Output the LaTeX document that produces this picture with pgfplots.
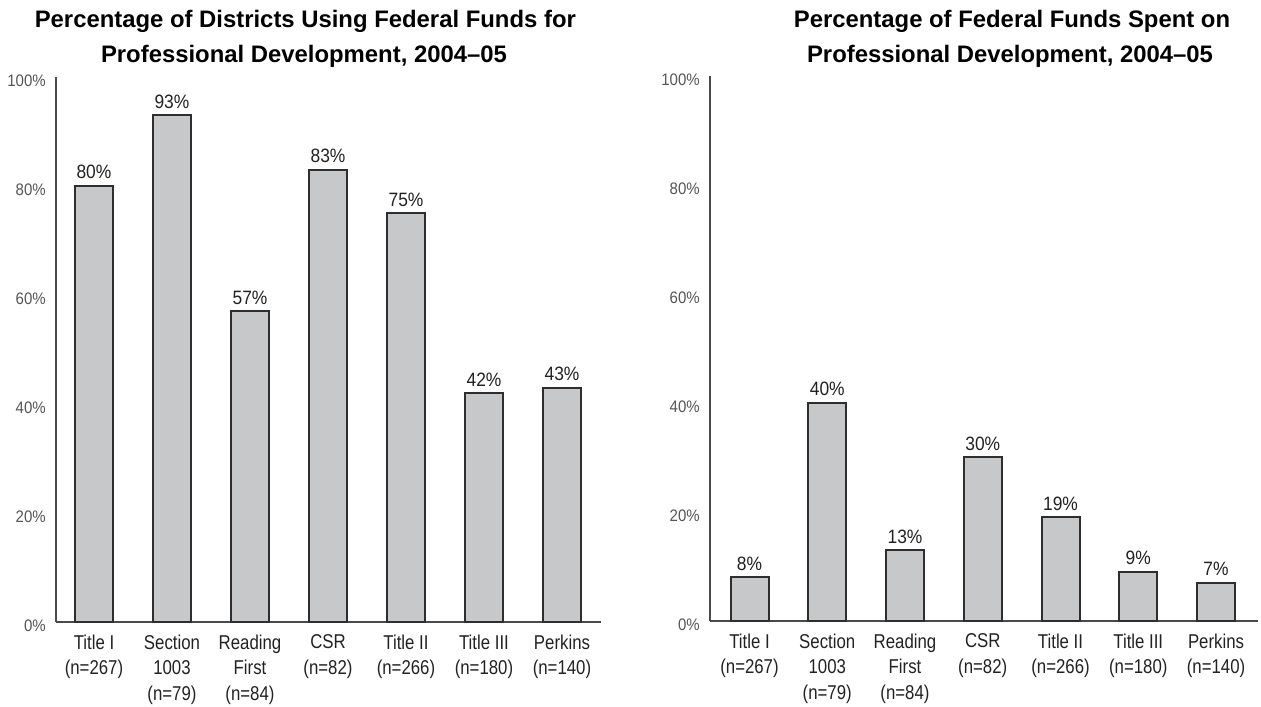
\documentclass[border=0pt]{standalone}
\usepackage{pgfplots}
\pgfplotsset{compat=1.18}
\usepackage{fontspec}
\setmainfont{Liberation Sans}
\newfontfamily\narrowf[FakeStretch=0.84]{Liberation Sans}
\newfontfamily\narrowt[FakeStretch=0.9]{Liberation Sans}
\definecolor{barfill}{HTML}{C7C8CA}
\definecolor{baredge}{HTML}{2E2E2E}
\definecolor{axisc}{HTML}{4A4A4A}
\definecolor{tickc}{HTML}{555555}
\definecolor{labc}{HTML}{222222}
\pgfplotsset{
  panel/.style={
    scale only axis,
    height=408.75pt,
    ymin=0, ymax=100,
    axis x line=bottom, axis y line=left,
    axis line style={-, draw=axisc, line width=1.5pt},
    major tick length=0pt,
    ytick={0,20,40,60,80,100},
    yticklabels={0\%,20\%,40\%,60\%,80\%,100\%},
    yticklabel style={anchor=east, inner sep=0pt, xshift=-7.5pt, yshift=-3pt,
      font={\narrowt\fontsize{12.5pt}{14pt}\selectfont}, text=tickc},
    xtick={0,1,2,3,4,5,6},
    xticklabels={{Title I\\(n=267)},{Section\\1003\\(n=79)},{Reading\\First\\(n=84)},{CSR\\(n=82)},{Title II\\(n=266)},{Title III\\(n=180)},{Perkins\\(n=140)}},
    xticklabel style={anchor=north, align=center, inner sep=0pt, yshift=-9.5pt,
      font={\narrowf\fontsize{15pt}{19.1pt}\selectfont}, text=labc},
    clip=false,
    enlargelimits=false,
    ybar, bar width=28.5pt,
    point meta=explicit symbolic,
    nodes near coords,
    nodes near coords style={anchor=base, yshift=5.25pt, inner sep=0pt,
      font={\narrowt\fontsize{14.5pt}{17pt}\selectfont}, text=labc},
  }
}
\begin{document}
\begin{tikzpicture}[x=1pt,y=1pt]
\path[use as bounding box] (0,0) rectangle (945.75,530.25);
\begin{axis}[panel, at={(42pt,63.75pt)}, anchor=south west,
  width=408.75pt, xmin=-0.487, xmax=6.5]
\addplot[fill=barfill, draw=baredge, line width=1.5pt] coordinates {
  (0,80) [80\%] (1,93) [93\%] (2,57) [57\%] (3,83) [83\%]
  (4,75) [75\%] (5,42) [42\%] (6,43) [43\%]};
\end{axis}
\begin{axis}[panel, at={(532.5pt,64.5pt)}, anchor=south west,
  width=411pt, xmin=-0.508, xmax=6.54]
\addplot[fill=barfill, draw=baredge, line width=1.5pt] coordinates {
  (0,8) [8\%] (1,40) [40\%] (2,13) [13\%] (3,30) [30\%]
  (4,19) [19\%] (5,9) [9\%] (6,7) [7\%]};
\end{axis}
\begin{scope}[every node/.style={anchor=base, inner sep=0pt, font={\bfseries\fontsize{17.9pt}{21pt}\selectfont}}]
\node at (229,509.25) {Percentage of Districts Using Federal Funds for};
\node at (228,483) {Professional Development, 2004--05};
\node at (759,509.25) {Percentage of Federal Funds Spent on};
\node at (757.5,483) {Professional Development, 2004--05};
\end{scope}
\end{tikzpicture}
\end{document}
